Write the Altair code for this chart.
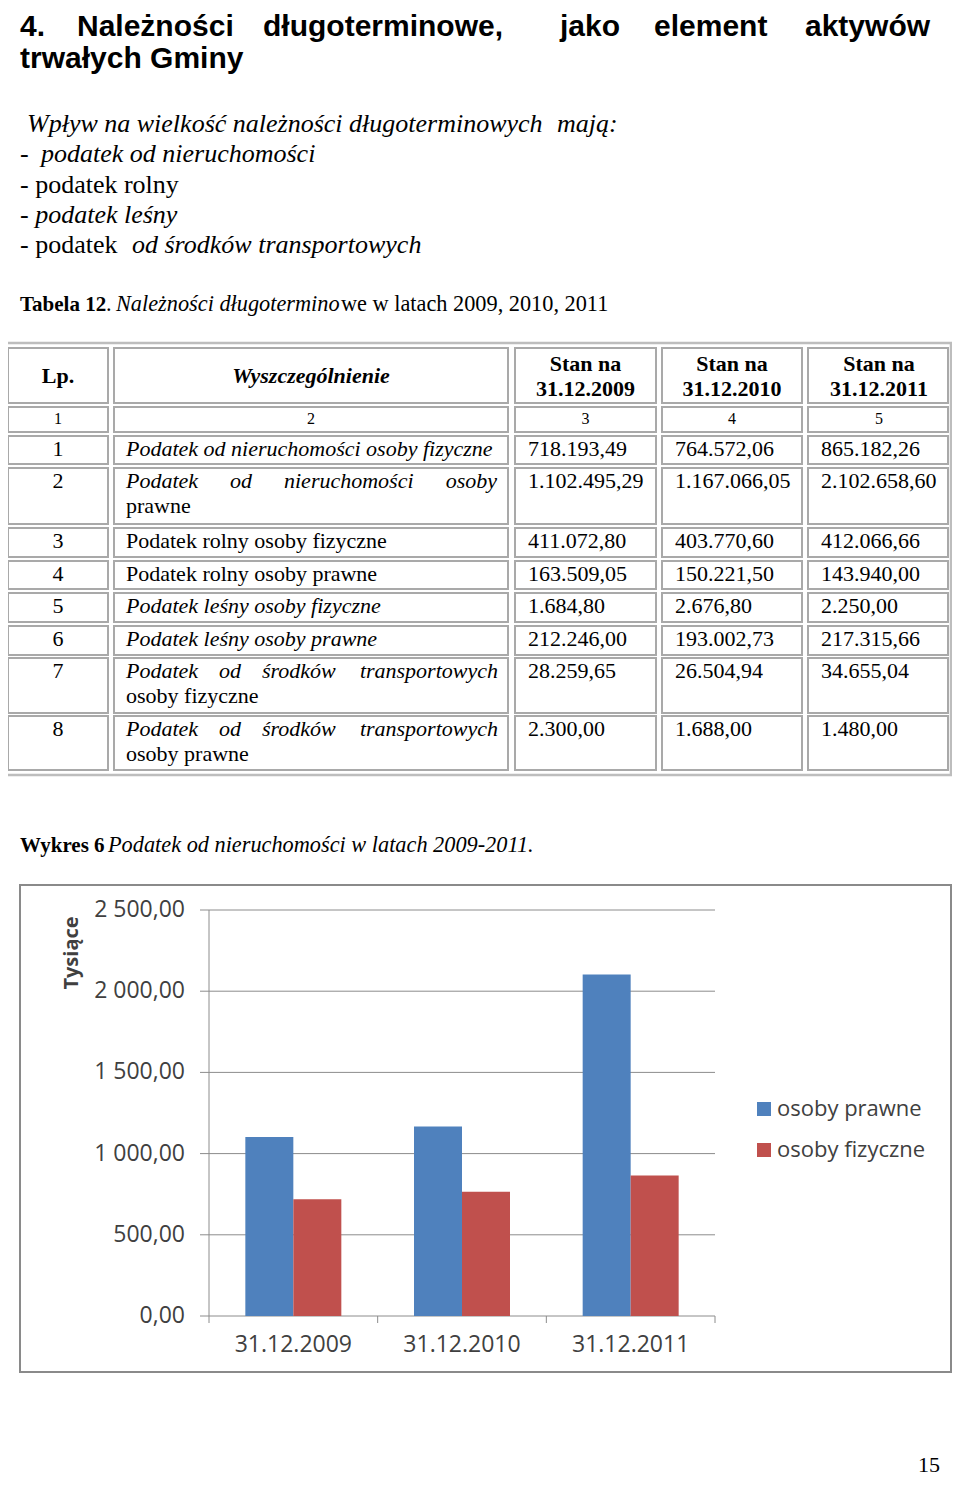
import altair as alt
import pandas as pd

# ======================= content =======================
heading_line1 = ["4.", "Należności", "długoterminowe,", "jako", "element", "aktywów"]
heading_line2 = ["trwałych Gminy"]

intro_segments = [
    ["Wpływ na wielkość należności długoterminowych", "mają:"],
    ["-", "podatek od nieruchomości"],
    ["- podatek rolny"],
    ["- podatek leśny"],
    ["- podatek", "od środków transportowych"],
]

table_caption = ["Tabela 12", ".", "Należności długotermino", "we w latach 2009, 2010, 2011"]
chart_caption = ["Wykres 6", "Podatek od nieruchomości w latach 2009-2011."]

header_labels = ["Lp.", "Wyszczególnienie", "Stan na", "Stan na", "Stan na"]
header_dates = ["31.12.2009", "31.12.2010", "31.12.2011"]
column_numbers = ["1", "2", "3", "4", "5"]
lp = ["1", "2", "3", "4", "5", "6", "7", "8"]
items = [
    "Podatek od nieruchomości osoby fizyczne",
    "Podatek od nieruchomości osoby prawne",
    "Podatek rolny osoby fizyczne",
    "Podatek rolny osoby prawne",
    "Podatek leśny osoby fizyczne",
    "Podatek leśny osoby prawne",
    "Podatek od środków transportowych osoby fizyczne",
    "Podatek od środków transportowych osoby prawne",
]
val_2009 = ["718.193,49", "1.102.495,29", "411.072,80", "163.509,05", "1.684,80", "212.246,00", "28.259,65", "2.300,00"]
val_2010 = ["764.572,06", "1.167.066,05", "403.770,60", "150.221,50", "2.676,80", "193.002,73", "26.504,94", "1.688,00"]
val_2011 = ["865.182,26", "2.102.658,60", "412.066,66", "143.940,00", "2.250,00", "217.315,66", "34.655,04", "1.480,00"]

page_number = ["15"]

# chart data (thousands of PLN)
dates = ["31.12.2009", "31.12.2010", "31.12.2011"]
series = ["osoby prawne", "osoby fizyczne"]
prawne = [1102.50, 1167.07, 2102.66]
fizyczne = [718.19, 764.57, 865.18]
y_ticks = [0, 500, 1000, 1500, 2000, 2500]
y_tick_labels = ["0,00", "500,00", "1 000,00", "1 500,00", "2 000,00", "2 500,00"]
y_title = "Tysiące"
colors = ["#4F81BD", "#C0504D"]

# ======================= layout =======================
OFF = 8                    # page margin
W, H = 944, 1469

SERIF = "Liberation Serif"
SANS = "Liberation Sans"
CH = "Open Sans"

STYLES = {
    "h":    dict(font=SANS, fontSize=30, fontWeight="bold", align="left", baseline="alphabetic"),
    "p_i":  dict(font=SERIF, fontSize=26, fontStyle="italic", align="left", baseline="alphabetic"),
    "p_r":  dict(font=SERIF, fontSize=26, align="left", baseline="alphabetic"),
    "c_b":  dict(font=SERIF, fontSize=21, fontWeight="bold", align="left", baseline="alphabetic"),
    "c_i":  dict(font=SERIF, fontSize=22.3, fontStyle="italic", align="left", baseline="alphabetic"),
    "c_r":  dict(font=SERIF, fontSize=22.3, align="left", baseline="alphabetic"),
    "th_b": dict(font=SERIF, fontSize=22, fontWeight="bold", align="center", baseline="middle"),
    "th_bi": dict(font=SERIF, fontSize=22, fontWeight="bold", fontStyle="italic", align="center", baseline="middle"),
    "tn":   dict(font=SERIF, fontSize=16, align="center", baseline="middle"),
    "lp":   dict(font=SERIF, fontSize=22, align="center", baseline="middle"),
    "ti":   dict(font=SERIF, fontSize=22, fontStyle="italic", align="left", baseline="middle"),
    "ti_r": dict(font=SERIF, fontSize=22, fontStyle="italic", align="right", baseline="middle"),
    "tr":   dict(font=SERIF, fontSize=22, align="left", baseline="middle"),
    "pg":   dict(font=SERIF, fontSize=22, align="right", baseline="alphabetic"),
    "leg":  dict(font=CH, fontSize=22, align="left", baseline="middle", color="#404040"),
}

texts = []


def put(x, y, t, style):
    texts.append(dict(x=x - OFF, y=y - OFF, t=t, s=style))


# heading (justified words)
for w, x in zip(heading_line1, [20, 77, 263, 560, 654, 805]):
    put(x, 35.5, w, "h")
put(20, 68, heading_line2[0], "h")

# intro paragraph
intro_layout = [
    [(27, "p_i"), (557, "p_i")],
    [(20, "p_r"), (41, "p_i")],
    [(20, "p_r")],
    [(20, "p_i")],
    [(20, "p_r"), (132, "p_i")],
]
intro_base = [132, 162, 193, 223, 253]
for segs, lay, yb in zip(intro_segments, intro_layout, intro_base):
    for s, (x, st) in zip(segs, lay):
        put(x, yb, s, st)

# captions
for s, (x, st) in zip(table_caption, [(20, "c_b"), (106, "c_r"), (116, "c_i"), (341, "c_r")]):
    put(x, 311, s, st)
for s, (x, st) in zip(chart_caption, [(20, "c_b"), (108, "c_i")]):
    put(x, 852, s, st)

put(940, 1472, page_number[0], "pg")

# table geometry (page px)
cols = [(8, 108), (114, 508), (515, 656), (662, 802), (808, 948)]
rows = [(348, 403), (407, 432), (436, 464), (468, 524), (528, 557), (561, 589),
        (593, 622), (626, 655), (658, 713), (716, 770)]
ccent = [(a + b) / 2 for a, b in cols]
ccent[4] = 879

for i, lab in enumerate(header_labels):
    if i < 2:
        put(ccent[i], 376, lab, "th_b" if i == 0 else "th_bi")
    else:
        put(ccent[i], 364, lab, "th_b")
        put(ccent[i], 389, header_dates[i - 2], "th_b")
for i, n in enumerate(column_numbers):
    put(ccent[i], 419, n, "tn")

first_style = ["ti", "ti", "tr", "tr", "ti", "ti", "ti", "ti"]
justified = {1: [126, 230, 284, 497], 6: [126, 219, 262, 498], 7: [126, 219, 262, 498]}
for r in range(8):
    top = rows[r + 2][0]
    y1 = top + 13
    put(ccent[0], y1, lp[r], "lp")
    if r in justified:
        words = items[r].split()
        xs = justified[r]
        for k in range(4):
            put(xs[k], y1, words[k], "ti_r" if k == 3 else first_style[r])
        put(126, y1 + 25, " ".join(words[4:]), "tr")
    else:
        put(126, y1, items[r], first_style[r])
    put(cols[2][0] + 13, y1, val_2009[r], "tr")
    put(cols[3][0] + 13, y1, val_2010[r], "tr")
    put(cols[4][0] + 13, y1, val_2011[r], "tr")

# legend (drawn in page space, coloured through colour scale)
leg_y = [1109, 1150]
for s, y in zip(series, leg_y):
    put(777, y, s, "leg")

tdf = pd.DataFrame(texts)

PX = dict(scale=None, axis=None)


def text_layer(style):
    d = tdf[tdf.s == style]
    props = dict(STYLES[style])
    props.setdefault("color", "#000000")
    return alt.Chart(d).mark_text(**props).encode(
        x=alt.X("x:Q", **PX), y=alt.Y("y:Q", **PX), text="t:N"
    )


# table rectangles
cell_rects = []
for (x0, x1) in cols:
    for (y0, y1) in rows:
        cell_rects.append(dict(x=x0 - OFF, x2=x1 - OFF, y=y0 - OFF, y2=y1 - OFF))
cell_df = pd.DataFrame(cell_rects)
outer_df = pd.DataFrame([dict(x=3 - OFF, x2=951 - OFF, y=343 - OFF, y2=775 - OFF)])

color_scale = alt.Scale(domain=series, range=colors)

cells = alt.Chart(cell_df).mark_rect(fillOpacity=0, stroke="#a9a9a9", strokeWidth=2).encode(
    x=alt.X("x:Q", **PX), x2="x2:Q", y=alt.Y("y:Q", **PX), y2="y2:Q")
outer = alt.Chart(outer_df).mark_rect(fillOpacity=0, stroke="#bdbdbd", strokeWidth=2.5).encode(
    x=alt.X("x:Q", **PX), x2="x2:Q", y=alt.Y("y:Q", **PX), y2="y2:Q")

legend_df = pd.DataFrame(dict(series=series, x=[764 - OFF] * 2, y=[y - OFF for y in leg_y]))
legend_sq = alt.Chart(legend_df).mark_square(size=196, opacity=1).encode(
    x=alt.X("x:Q", **PX), y=alt.Y("y:Q", **PX),
    color=alt.Color("series:N", scale=color_scale, legend=None))

doc = alt.layer(outer, cells, legend_sq, *[text_layer(s) for s in tdf.s.unique()])

# ---------------- bar chart (own scales) ----------------
xscale = alt.Scale(domain=dates, range=[209 - OFF, 715 - OFF], paddingInner=0, paddingOuter=0)
yscale = alt.Scale(domain=[0, 2500], range=[1316 - OFF, 910 - OFF], nice=False, zero=True)

bars_df = pd.DataFrame(dict(
    date=dates * 2,
    series=[series[0]] * 3 + [series[1]] * 3,
    value=prawne + fizyczne,
))
ticks_df = pd.DataFrame(dict(v=y_ticks, label=y_tick_labels))
dates_df = pd.DataFrame(dict(date=dates))

frame = alt.Chart(dates_df.head(1)).mark_rect(fillOpacity=0, stroke="#8a8a8a", strokeWidth=2).encode(
    x=alt.value(20 - OFF), x2=alt.value(951 - OFF), y=alt.value(885 - OFF), y2=alt.value(1372 - OFF))

grid = alt.Chart(ticks_df).mark_rule(color="#8c8c8c", strokeWidth=1).encode(
    y=alt.Y("v:Q", scale=yscale, axis=None), x=alt.value(200 - OFF), x2=alt.value(715 - OFF))

yaxis_line = alt.Chart(dates_df.head(1)).mark_rule(color="#8c8c8c", strokeWidth=1).encode(
    x=alt.value(209 - OFF), y=alt.Y(datum=2500, scale=yscale, axis=None), y2=alt.value(1323 - OFF))

xticks = alt.Chart(dates_df).mark_rule(color="#8c8c8c", strokeWidth=1).encode(
    x=alt.X("date:N", scale=xscale, sort=dates, axis=None, bandPosition=1),
    y=alt.Y(datum=0, scale=yscale, axis=None), y2=alt.value(1323 - OFF))

bars = alt.Chart(bars_df).mark_bar(opacity=1).encode(
    x=alt.X("date:N", scale=xscale, sort=dates, axis=None),
    xOffset=alt.XOffset("series:N", sort=series, scale=alt.Scale(domain=series, paddingOuter=0.757, paddingInner=0)),
    y=alt.Y("value:Q", scale=yscale, axis=None),
    color=alt.Color("series:N", scale=color_scale, legend=None),
)

ylabels = alt.Chart(ticks_df).mark_text(font=CH, fontSize=23, align="right", baseline="middle", color="#404040").encode(
    y=alt.Y("v:Q", scale=yscale, axis=None), x=alt.value(185 - OFF), text="label:N")

xlabels = alt.Chart(dates_df).mark_text(font=CH, fontSize=23, align="center", baseline="middle", color="#404040").encode(
    x=alt.X("date:N", scale=xscale, sort=dates, axis=None), y=alt.value(1345 - OFF), text="date:N")

ytitle = alt.Chart(pd.DataFrame(dict(t=[y_title]))).mark_text(
    font=CH, fontSize=20, fontWeight="bold", angle=270, align="center", baseline="middle", color="#404040").encode(
    x=alt.value(72 - OFF), y=alt.value(953 - OFF), text="t:N")

chart_layer = alt.layer(frame, grid, yaxis_line, xticks, bars, ylabels, xlabels, ytitle)

chart = alt.layer(doc, chart_layer).resolve_scale(
    x="independent", y="independent"
).properties(
    width=W, height=H, padding=0, background="#ffffff",
    autosize=alt.AutoSizeParams(type="none"),
).configure_view(stroke=None)

chart.save("out.html", embed_options={"renderer": "svg", "actions": False})
